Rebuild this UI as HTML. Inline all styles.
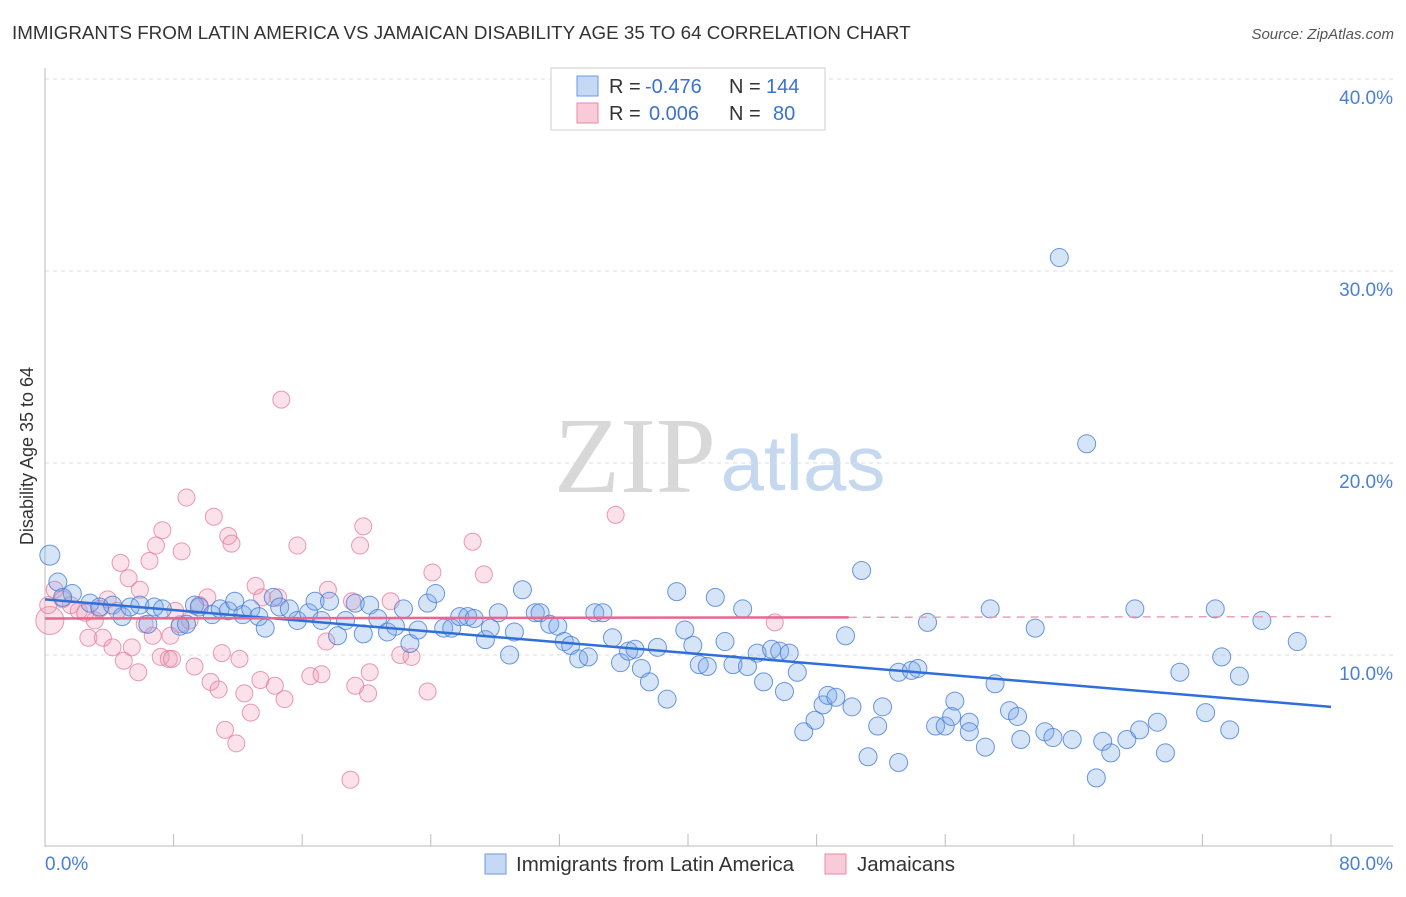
<!DOCTYPE html>
<html><head><meta charset="utf-8"><style>
body{margin:0;background:#fff;font-family:"Liberation Sans",sans-serif;}
svg text{font-family:"Liberation Sans",sans-serif;}
</style></head><body>
<svg id="chart" width="1406" height="892" viewBox="0 0 1406 892" xmlns="http://www.w3.org/2000/svg">
<text x="12" y="39" font-size="18.8" fill="#333">IMMIGRANTS FROM LATIN AMERICA VS JAMAICAN DISABILITY AGE 35 TO 64 CORRELATION CHART</text>
<text x="1394" y="39" font-size="15" fill="#555" font-style="italic" text-anchor="end">Source: ZipAtlas.com</text>
<g>
<text x="635" y="492" font-size="108" fill="#d8d8d8" text-anchor="middle" style="font-family:'Liberation Serif',serif">ZIP</text>
<text x="803" y="490" font-size="78" fill="#c5d8f0" text-anchor="middle">atlas</text>
</g>
<g id="grid"></g>
<g id="axes"></g>
<g id="marks"></g>
<text transform="translate(33,456) rotate(-90)" font-size="18" fill="#333" text-anchor="middle">Disability Age 35 to 64</text>
<g>
<rect x="551" y="68" width="274" height="62" fill="#fff" stroke="#ccc"/>
<rect x="577" y="76" width="21" height="20" fill="#c5d9f5" stroke="#6b9ae0"/>
<rect x="577" y="103" width="21" height="20" fill="#f9cbd8" stroke="#e88aa8"/>
<text x="609" y="93" font-size="20" fill="#333">R =</text>
<text x="645" y="93" font-size="20" fill="#3b72d0">-0.476</text>
<text x="729" y="93" font-size="20" fill="#333">N =</text>
<text x="766" y="93" font-size="20" fill="#3b72d0">144</text>
<text x="609" y="120" font-size="20" fill="#333">R =</text>
<text x="649" y="120" font-size="20" fill="#3b72d0">0.006</text>
<text x="729" y="120" font-size="20" fill="#333">N =</text>
<text x="773" y="120" font-size="20" fill="#3b72d0">80</text>
</g>
<g>
<rect x="485" y="854" width="21" height="20" fill="#c5d9f5" stroke="#6b9ae0"/>
<text x="516" y="871" font-size="20.5" fill="#333">Immigrants from Latin America</text>
<rect x="825" y="854" width="21" height="20" fill="#f9cbd8" stroke="#e88aa8"/>
<text x="857" y="871" font-size="20.5" fill="#333">Jamaicans</text>
</g>
</svg>
<script>
const blueX=[0.3,0.8,1.7,1.1,2.8,3.4,4.2,4.8,5.3,5.9,6.4,6.8,7.3,8.4,8.8,9.3,9.6,10.4,10.9,11.4,11.8,12.3,12.8,13.3,13.7,14.2,14.6,15.2,15.7,16.4,16.8,17.2,17.7,18.2,18.7,19.3,19.8,20.2,20.7,21.3,21.8,22.3,22.7,23.2,23.8,24.3,24.8,25.3,25.8,26.3,26.7,27.4,27.7,28.2,28.9,29.2,29.7,30.5,30.8,31.4,31.9,32.3,32.7,33.2,33.8,34.2,34.7,35.3,35.8,36.3,36.7,37.1,37.6,38.1,38.7,39.3,39.8,40.3,40.7,41.2,41.7,42.3,42.8,43.4,43.7,44.3,44.7,45.2,45.7,46.0,46.3,46.8,47.2,47.9,48.4,48.7,49.2,49.8,50.2,50.8,51.2,51.8,52.1,53.1,53.1,53.9,54.3,54.9,55.4,56.0,56.4,56.6,57.5,57.5,58.5,58.8,59.1,60.0,60.5,60.7,61.6,62.2,62.7,63.1,63.9,64.8,65.4,65.8,66.3,67.3,67.8,68.1,69.2,69.7,70.6,72.2,72.8,73.2,73.7,74.3,75.7,77.9];
const blueY=[15.2,13.8,13.2,13.0,12.7,12.5,12.6,12.0,12.5,12.6,11.6,12.5,12.4,11.5,11.6,12.6,12.5,12.1,12.4,12.3,12.8,12.1,12.4,12.0,11.4,13.0,12.5,12.4,11.8,12.2,12.8,11.8,12.8,11.0,11.8,12.7,11.1,12.6,11.9,11.2,11.5,12.4,10.6,11.3,12.7,13.2,11.4,11.4,12.0,12.0,11.9,10.8,11.4,12.2,10.0,11.2,13.4,12.2,12.2,11.6,11.5,10.7,10.5,9.8,9.9,12.2,12.2,10.9,9.6,10.2,10.3,9.3,8.6,10.4,7.7,13.3,11.3,10.5,9.5,9.4,13.0,10.7,9.5,12.4,9.4,10.1,8.6,10.3,10.2,8.1,10.1,9.1,6.0,6.6,7.4,7.9,7.8,11.0,7.3,14.4,4.7,6.3,7.3,4.4,9.1,9.2,9.3,11.7,6.3,6.3,6.8,7.6,6.5,6.0,5.2,12.4,8.5,7.1,6.8,5.6,11.4,6.0,5.7,30.7,5.6,21.0,3.6,5.5,4.9,5.6,12.4,6.1,6.5,4.9,9.1,7.0,12.4,9.9,6.1,8.9,11.8,10.7];
const pinkX=[0.3,0.2,0.6,1.1,1.6,2.1,2.5,2.7,3.1,3.4,3.6,3.9,4.2,4.5,4.7,4.9,5.2,5.4,5.8,5.9,6.2,6.5,6.7,6.9,7.2,7.3,7.7,7.8,7.9,8.1,8.4,8.5,8.8,9.0,9.3,9.6,10.1,10.3,10.5,10.8,11.0,11.2,11.4,11.6,11.9,12.1,12.4,12.8,13.1,13.4,13.5,14.3,14.5,14.7,14.9,15.7,16.5,17.2,17.5,17.6,19.0,19.1,19.3,19.6,19.8,20.1,20.2,21.5,22.1,22.8,23.8,24.1,26.6,27.3,35.5,45.4];
const pinkY=[11.8,12.6,13.4,12.9,12.6,12.3,12.2,10.9,11.8,12.4,10.9,12.9,10.4,12.3,14.8,9.7,14.0,10.4,9.1,13.4,11.6,14.9,11.0,15.7,9.9,16.5,9.8,11.0,9.8,12.3,11.6,15.4,18.2,11.8,9.4,12.6,13.0,8.6,17.2,8.2,10.1,6.1,16.2,15.8,5.4,9.8,8.0,7.0,13.6,8.7,13.0,8.4,13.0,23.3,7.7,15.7,8.9,9.0,10.7,13.4,3.5,12.8,8.4,15.7,16.7,8.0,9.1,12.8,10.0,9.9,8.1,14.3,15.9,14.2,17.3,11.7];
const trendBlue=[12.9,7.3];
const trendPink=[11.9,12.0];
const yTicks=[10,20,30,40];
const yTickLabels=["10.0%","20.0%","30.0%","40.0%"];
const xTicks=[0,8,16,24,32,40,48,56,64,72,80];
const NS="http://www.w3.org/2000/svg";
const X0=45,X1=1331,Y0=847;
function sx(v){return X0+(X1-X0)*v/80;}
function sy(v){return Y0-19.2*v;}
function mk(tag,attrs,parent){const e=document.createElementNS(NS,tag);for(const k in attrs)e.setAttribute(k,attrs[k]);parent.appendChild(e);return e;}
const grid=document.getElementById('grid'),axes=document.getElementById('axes'),marks=document.getElementById('marks');
yTicks.forEach((t,i)=>{
  const l=mk('line',{x1:X0,x2:1393,y1:sy(t),y2:sy(t),stroke:'#ddd','stroke-dasharray':'4,4'},grid);
  
  
  const tx=mk('text',{x:1393,y:sy(t)+25,'font-size':19,fill:'#4a7fd6','text-anchor':'end'},grid);
  tx.textContent=yTickLabels[i];
  
  
});
const ya=mk('line',{x1:X0,x2:X0,y1:68,y2:847,stroke:'#bbb'},axes);


const xa=mk('line',{x1:X0,x2:1393,y1:846,y2:846,stroke:'#bbb'},axes);


xTicks.forEach(t=>{
  const l=mk('line',{x1:sx(t),x2:sx(t),y1:834,y2:846,stroke:'#bbb'},axes);
  
  
});
const xl0=mk('text',{x:45,y:870,'font-size':19,fill:'#4a7fd6'},axes);xl0.textContent='0.0%';


const xl1=mk('text',{x:1393,y:870,'font-size':19,fill:'#4a7fd6','text-anchor':'end'},axes);xl1.textContent='80.0%';


pinkX.forEach((x,i)=>{
  const c=mk('circle',{cx:sx(x),cy:sy(pinkY[i]),r:i===0?14:8.5,fill:'rgba(242,150,178,0.28)',stroke:'rgba(228,120,155,0.75)','stroke-width':1},marks);
  
  
});
blueX.forEach((x,i)=>{
  const c=mk('circle',{cx:sx(x),cy:sy(blueY[i]),r:i===0?10:9,fill:'rgba(120,165,232,0.3)',stroke:'rgba(70,125,215,0.8)','stroke-width':1},marks);
  
  
});
const tb=mk('line',{x1:sx(0),y1:sy(trendBlue[0]),x2:sx(80),y2:sy(trendBlue[1]),stroke:'#2f6fd8','stroke-width':2.5},marks);


const pm=trendPink[0]+(trendPink[1]-trendPink[0])*50/80;
const tp=mk('line',{x1:sx(0),y1:sy(trendPink[0]),x2:sx(50),y2:sy(pm),stroke:'#e7678f','stroke-width':2.5},marks);


const tpd=mk('line',{x1:sx(50),y1:sy(pm),x2:sx(80),y2:sy(trendPink[1]),stroke:'#e7a0b6','stroke-width':1.5,'stroke-dasharray':'8,6'},marks);


</script>
</body></html>
